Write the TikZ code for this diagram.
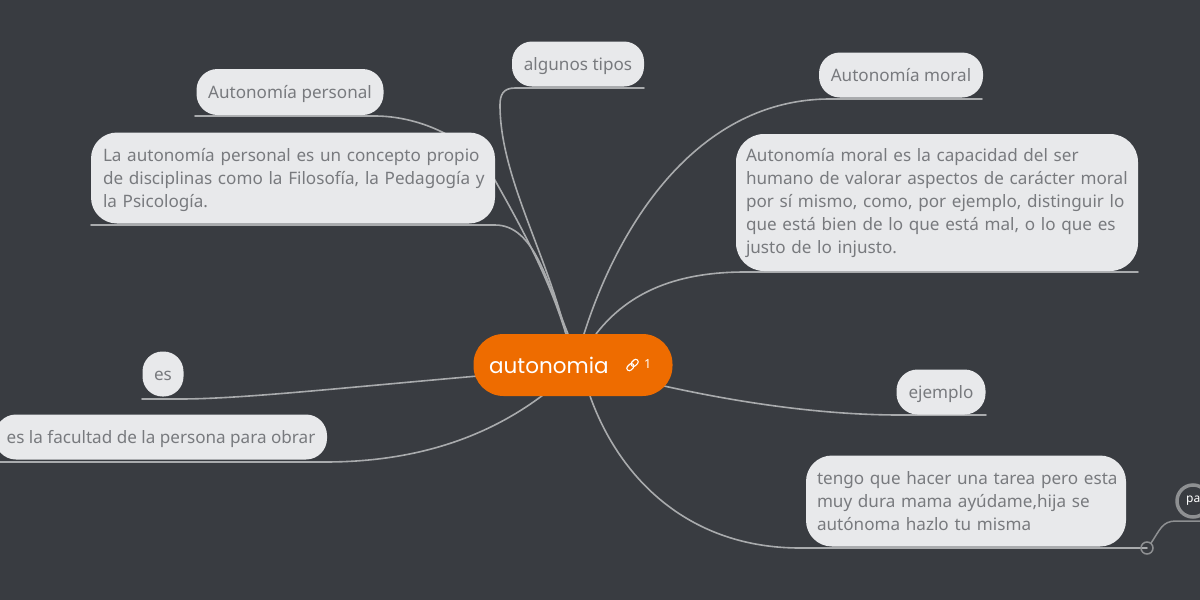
\documentclass[tikz,border=0pt]{standalone}
\usepackage{fontspec}
\usetikzlibrary{backgrounds}
\setmainfont{Noto Sans}
\newfontfamily\titlefont{Poppins}
\definecolor{bg}{HTML}{393C41}
\definecolor{box}{HTML}{E8E9EB}
\definecolor{txt}{HTML}{787A7E}
\definecolor{lin}{HTML}{A9ABAD}
\definecolor{dim}{HTML}{8E9092}
\definecolor{org}{HTML}{EE6C00}
\tikzset{
 topic/.style={draw=none,fill=box,rounded corners=#1,inner sep=0pt,text=txt,font=\fontsize{17.1}{23}\selectfont},
 topic/.default=20pt,
 single/.style={text height=13pt,text depth=1pt},
 conn/.style={draw=lin,line width=1.6pt,line cap=round}}
\begin{document}
\begin{tikzpicture}[x=1pt,y=-1pt]
\useasboundingbox (0,0) rectangle (1200,600);
% nodes
\node[topic=20pt,single,minimum width=132pt,minimum height=45pt] (tipos) at (578,64) {algunos tipos};
\node[topic=21pt,single,minimum width=187pt,minimum height=46pt] (pers) at (290,92) {Autonomía personal};
\node[topic=26pt,minimum width=404pt,minimum height=91pt,text width=380pt,align=left] (persd) at (293,178) {\rule{0pt}{17.5pt}\mbox{La autonomía personal es un concepto propio}\\\mbox{de disciplinas como la Filosofía, la Pedagogía y}\\\mbox{la Psicología.}};
\node[topic=21pt,single,minimum width=164pt,minimum height=45pt] (moral) at (901,75) {Autonomía moral};
\node[topic=28pt,minimum width=402pt,minimum height=137pt,text width=382pt,align=left] (morald) at (937,202.5) {\rule{0pt}{15pt}\mbox{Autonomía moral es la capacidad del ser}\\\mbox{humano de valorar aspectos de carácter moral}\\\mbox{por sí mismo, como, por ejemplo, distinguir lo}\\\mbox{que está bien de lo que está mal, o lo que es}\\\mbox{justo de lo injusto.}};
\node[topic=20pt,single,minimum width=41pt,minimum height=45pt] (es) at (163,374) {es};
\node[topic=21pt,single,minimum width=332pt,minimum height=45pt] (fac) at (161,437) {es la facultad de la persona para obrar};
\node[topic=21pt,single,minimum width=89pt,minimum height=45pt] (ej) at (941,392) {ejemplo};
\node[topic=26pt,minimum width=320pt,minimum height=91pt,text width=298pt,align=left] (tarea) at (966,501) {\mbox{tengo que hacer una tarea pero esta}\\\mbox{muy dura mama ayúdame,hija se}\\\mbox{autónoma hazlo tu misma}};
\node[fill=org,rounded corners=30pt,minimum width=199pt,minimum height=62pt,inner sep=0pt] (main) at (573,365) {};
\node[anchor=west,text=white,font=\titlefont\fontsize{21.5}{24}\selectfont,inner sep=0pt] (mt) at (489,365) {autonomia};
\node[anchor=west,text=white,font=\fontsize{12.5}{14}\selectfont,inner sep=0pt] (mn) at (644,364) {1};
\draw[white,line width=1.1pt,rounded corners=2.4pt,rotate around={45:(632.5,365)}] (625.5,362.5) rectangle (633.5,367.5);
\draw[white,line width=1.1pt,rounded corners=2.4pt,rotate around={45:(632.5,365)}] (631.5,362.5) rectangle (639.5,367.5);
\node[draw=dim,fill=bg,line width=3.5pt,circle,minimum size=32pt,inner sep=0pt] (pa) at (1193,501) {};
\node[anchor=west,text=white,font=\fontsize{12}{14}\selectfont,inner sep=0pt] (pat) at (1186,501) {pa};
\coordinate (knob) at (1147,548);
\draw[dim,line width=1.5pt] (knob) circle (6);
% connectors
\begin{pgfonlayer}{background}
\fill[bg] (0,0) rectangle (1200,600);
\coordinate (a1) at (566,334);
\draw[conn] (a1) .. controls (545,250) and (500,175) .. (500,105) .. controls (500,95) and (503,88) .. (515,88) -- (644,88);
\draw[conn] (195,116) -- (375,116) .. controls (415,116) and (470,135) .. (496,182) .. controls (520,225) and (548,275) .. (a1);
\draw[conn] (91,225) -- (495,225) .. controls (535,225) and (548,285) .. (568,334);
\coordinate (a2) at (584,334);
\draw[conn] (a2) .. controls (620,220) and (700,99) .. (830,99) -- (982,99);
\coordinate (a3) at (596,334);
\draw[conn] (a3) .. controls (630,290) and (680,272) .. (745,272) -- (1138,272);
\coordinate (a4) at (664,386);
\draw[conn] (a4) .. controls (750,405) and (830,415) .. (900,415) -- (986,415);
\coordinate (a5) at (590,396);
\draw[conn] (a5) .. controls (620,480) and (690,548) .. (800,548) -- (knob);
\coordinate (a6) at (478,376);
\draw[conn] (a6) .. controls (340,388) and (240,399) .. (180,399) -- (142,399);
\coordinate (a7) at (543,395);
\draw[conn] (a7) .. controls (490,435) and (420,462) .. (325,462) -- (0,462);
\draw[dim,line width=1.5pt] (1151,543) .. controls (1160,530) and (1162,521) .. (1176,521) -- (1200,521);
\end{pgfonlayer}
\end{tikzpicture}
\end{document}
